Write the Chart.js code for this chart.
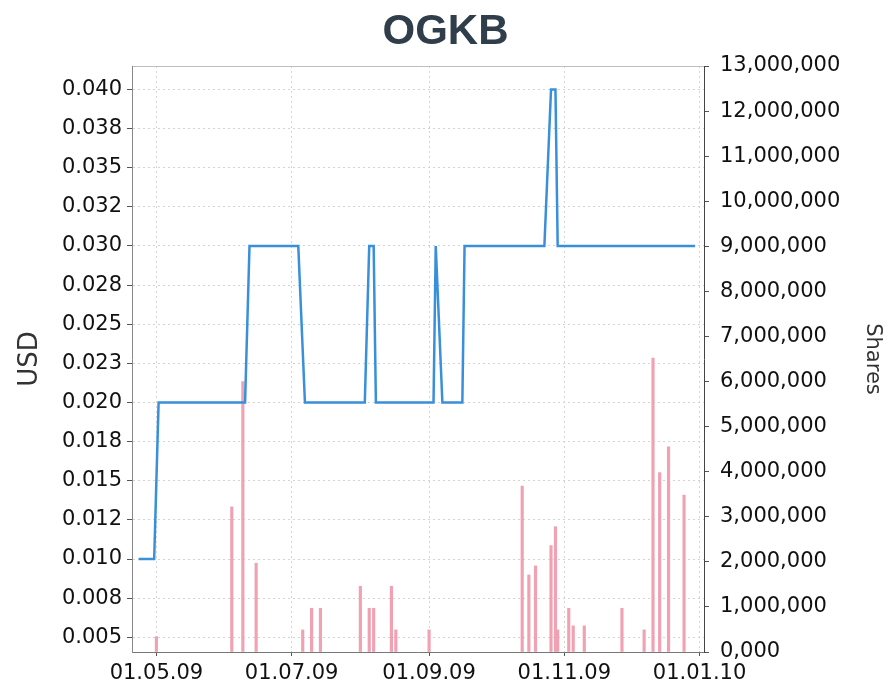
<!DOCTYPE html>
<html>
<head>
<meta charset="utf-8">
<script src="https://cdn.jsdelivr.net/npm/chart.js@4.4.1/dist/chart.umd.min.js"></script>
<style>
  html, body { margin: 0; padding: 0; background: #fff; }
  #wrap { width: 891px; height: 686px; }
</style>
</head>
<body>
<div id="wrap"><canvas id="chart"></canvas></div>
<script>
// OGKB: price in USD (left axis, line) and traded volume in shares (right axis, bars).
// Values.
const priceDates = ['2009-04-23', '2009-04-30', '2009-05-02', '2009-06-10', '2009-06-12', '2009-07-04',
  '2009-07-07', '2009-08-03', '2009-08-05', '2009-08-07', '2009-08-08', '2009-09-03', '2009-09-04',
  '2009-09-07', '2009-09-16', '2009-09-17', '2009-10-23', '2009-10-26', '2009-10-28', '2009-10-29',
  '2009-12-30'];
const priceValues = [0.010, 0.010, 0.020, 0.020, 0.030, 0.030,
  0.020, 0.020, 0.030, 0.030, 0.020, 0.020, 0.030,
  0.020, 0.020, 0.030, 0.030, 0.040, 0.040, 0.030,
  0.030];

const volumeDates = ['2009-05-01', '2009-06-04', '2009-06-09', '2009-06-15', '2009-07-06', '2009-07-10',
  '2009-07-14', '2009-08-01', '2009-08-05', '2009-08-07', '2009-08-15', '2009-08-17', '2009-09-01',
  '2009-10-13', '2009-10-16', '2009-10-19', '2009-10-26', '2009-10-28', '2009-10-29', '2009-11-03',
  '2009-11-05', '2009-11-10', '2009-11-27', '2009-12-07', '2009-12-11', '2009-12-14', '2009-12-18',
  '2009-12-25'];
const volumeValues = [340000, 3220000, 6000000, 1970000, 490000, 970000,
  970000, 1460000, 970000, 970000, 1460000, 490000, 490000,
  3680000, 1710000, 1910000, 2360000, 2780000, 490000, 970000,
  580000, 580000, 970000, 490000, 6520000, 3980000, 4550000,
  3480000];

const xTickDates = ['2009-05-01', '2009-07-01', '2009-09-01', '2009-11-01', '2010-01-01'];
const xTickLabels = ['01.05.09', '01.07.09', '01.09.09', '01.11.09', '01.01.10'];

const usdTickValues = [0.005, 0.0075, 0.01, 0.0125, 0.015, 0.0175, 0.02, 0.0225, 0.025, 0.0275,
  0.03, 0.0325, 0.035, 0.0375, 0.04];
const usdTickLabels = ['0.005', '0.008', '0.010', '0.012', '0.015', '0.018', '0.020', '0.023', '0.025',
  '0.028', '0.030', '0.032', '0.035', '0.038', '0.040'];

const shareTickValues = [0, 1000000, 2000000, 3000000, 4000000, 5000000, 6000000, 7000000,
  8000000, 9000000, 10000000, 11000000, 12000000, 13000000];
const shareTickLabels = ['0,000', '1,000,000', '2,000,000', '3,000,000', '4,000,000', '5,000,000',
  '6,000,000', '7,000,000', '8,000,000', '9,000,000', '10,000,000', '11,000,000', '12,000,000',
  '13,000,000'];

const day = s => Date.parse(s);
const tickFont = { family: "'DejaVu Sans', Verdana, sans-serif", size: 21 };

new Chart(document.getElementById('chart'), {
  type: 'bar',
  data: {
    datasets: [
      {
        type: 'line',
        label: 'USD',
        data: priceDates.map((d, i) => ({ x: day(d), y: priceValues[i] })),
        xAxisID: 'x',
        yAxisID: 'y',
        borderColor: '#3a8fdb',
        borderWidth: 2.5,
        pointRadius: 0,
        tension: 0,
        order: 1,
      },
      {
        type: 'bar',
        label: 'Shares',
        data: volumeDates.map((d, i) => ({ x: day(d), y: volumeValues[i] })),
        xAxisID: 'x',
        yAxisID: 'y1',
        backgroundColor: '#f0a2b3',
        barThickness: 2.5,
        order: 2,
      },
    ],
  },
  options: {
    responsive: true,
    maintainAspectRatio: false,
    animation: false,
    layout: { padding: 0 },
    plugins: {
      legend: { display: false },
      tooltip: { enabled: false },
      title: {
        display: true,
        text: 'OGKB',
        color: '#2f3e4a',
        font: { family: "'Liberation Sans', Arial, sans-serif", size: 42, weight: 'bold', lineHeight: 1.2 },
        padding: { top: 7, bottom: 8.6 },
      },
    },
    scales: {
      x: {
        type: 'linear',
        position: 'bottom',
        min: day('2009-04-20'),
        max: day('2010-01-03'),
        offset: false,
        afterBuildTicks: s => { s.ticks = xTickDates.map(d => ({ value: day(d) })); },
        afterFit: s => { s.height = 34; },
        ticks: { callback: (v, i) => xTickLabels[i], font: tickFont, color: '#111', padding: 5, maxRotation: 0, autoSkip: false },
        grid: { color: '#d4d4d4', offset: false, tickLength: 4, tickColor: '#555', tickBorderDash: [] },
        border: { color: '#777', dash: [2, 3] },
      },
      xTop: {
        type: 'linear',
        position: 'top',
        display: true,
        min: 0,
        max: 1,
        ticks: { display: false },
        grid: { display: false, drawTicks: false },
        border: { display: true, color: '#bdbdbd' },
      },
      y: {
        type: 'linear',
        position: 'left',
        min: 0.00406,
        max: 0.0415,
        afterBuildTicks: s => { s.ticks = usdTickValues.map(v => ({ value: v })); },
        afterFit: s => { s.width = 132; },
        ticks: { callback: (v, i) => usdTickLabels[i], font: tickFont, color: '#111', padding: 5, autoSkip: false },
        grid: { color: '#d4d4d4', tickLength: 5, tickColor: '#555', tickBorderDash: [] },
        border: { color: '#888', dash: [2, 3] },
        title: {
          display: true,
          text: 'USD',
          color: '#333',
          font: { family: "'DejaVu Sans', Verdana, sans-serif", size: 26 },
          padding: { top: 15, bottom: 0 },
        },
      },
      y1: {
        type: 'linear',
        position: 'right',
        min: 0,
        max: 13000000,
        afterBuildTicks: s => { s.ticks = shareTickValues.map(v => ({ value: v })); },
        afterFit: s => { s.width = 187; },
        ticks: { callback: (v, i) => shareTickLabels[i], font: tickFont, color: '#111', padding: 11, autoSkip: false },
        grid: { drawOnChartArea: false, tickLength: 5, tickColor: '#555' },
        border: { color: '#444' },
        title: {
          display: true,
          text: 'Shares',
          color: '#333',
          font: { family: "'DejaVu Sans', Verdana, sans-serif", size: 21 },
          padding: { top: 6, bottom: 0 },
        },
      },
    },
  },
});
</script>
</body>
</html>
